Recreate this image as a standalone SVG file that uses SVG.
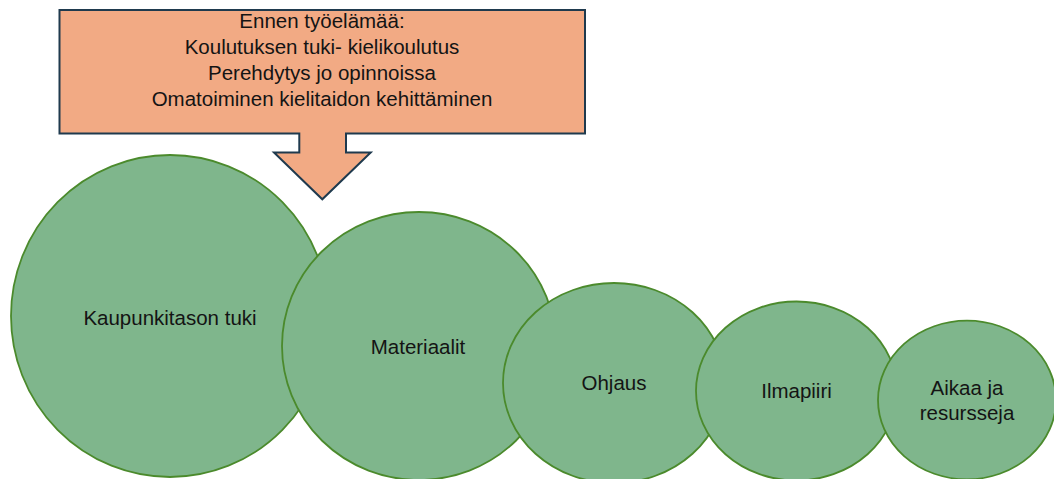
<svg xmlns="http://www.w3.org/2000/svg" width="1054" height="479" viewBox="0 0 1054 479">
<style>
.bubble{fill:#7fb68c;stroke:#4b8a2c;stroke-width:1.8}
.lbl{font-family:"Liberation Sans",Arial,sans-serif;font-size:20.5px;fill:#141414;text-anchor:middle}
.callout{fill:#f2aa84;stroke:#1f3a4e;stroke-width:2}
</style>
<rect width="1054" height="479" fill="#ffffff"/>
<g id="connectors"></g>
<g id="callout">
<path class="callout" d="M59.5,10 H585 V133.5 H346 V152.5 H370.7 L322.3,199.3 L274,152.5 H299.3 V133.5 H59.5 Z"/>
<text class="lbl" x="322" y="28">Ennen työelämää:</text>
<text class="lbl" x="322" y="54">Koulutuksen tuki- kielikoulutus</text>
<text class="lbl" x="322" y="80">Perehdytys jo opinnoissa</text>
<text class="lbl" x="322" y="106">Omatoiminen kielitaidon kehittäminen</text>
</g>
<g id="kaupunkitason">
<ellipse class="bubble" cx="170" cy="316" rx="159" ry="161"/>
<text class="lbl" x="170" y="325">Kaupunkitason tuki</text>
</g>
<g id="materiaalit">
<ellipse class="bubble" cx="419" cy="346" rx="137" ry="134"/>
<text class="lbl" x="418" y="354">Materiaalit</text>
</g>
<g id="ohjaus">
<ellipse class="bubble" cx="614" cy="383" rx="111" ry="100"/>
<text class="lbl" x="614" y="390">Ohjaus</text>
</g>
<g id="ilmapiiri">
<ellipse class="bubble" cx="796.5" cy="391" rx="100.5" ry="89.5"/>
<text class="lbl" x="796.5" y="398">Ilmapiiri</text>
</g>
<g id="aikaa">
<ellipse class="bubble" cx="967" cy="400" rx="89" ry="79.3"/>
<text class="lbl" x="967" y="395">Aikaa ja</text>
<text class="lbl" x="967" y="420">resursseja</text>
</g>
</svg>
